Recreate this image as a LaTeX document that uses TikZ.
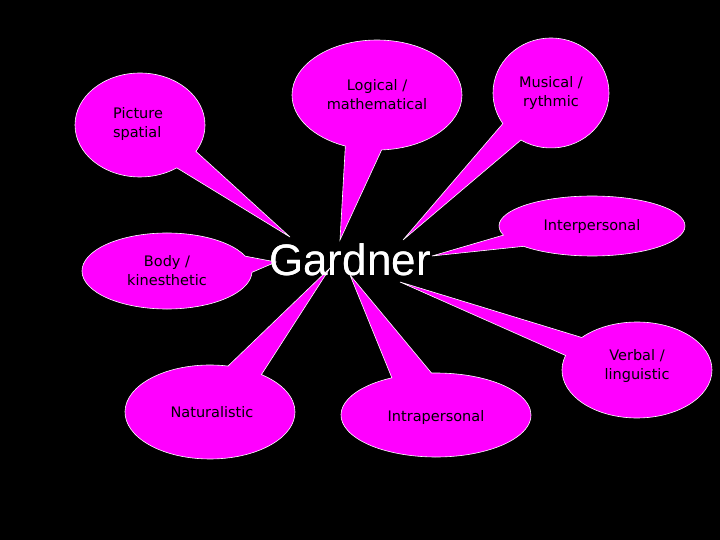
\documentclass[tikz,border=0pt]{standalone}
\usepackage{fontspec}
\setmainfont{DejaVu Sans}
\newfontfamily\garfont{Liberation Sans}
\usetikzlibrary{shapes.callouts}
\definecolor{mag}{HTML}{FF00FF}
\tikzset{bubble/.style={ellipse callout, fill=mag, draw=white, line width=0.6pt, align=center, font=\fontsize{14.5}{19}\selectfont, text=black, inner sep=0pt, callout pointer arc=25}}
\begin{document}
\begin{tikzpicture}[x=1pt,y=-1pt]
\fill[black] (0,0) rectangle (720,540);
\useasboundingbox (0,0) rectangle (720,540);
\node[font=\garfont\fontsize{44}{50}\selectfont, text=white] (g) at (350,260) {Gardner};
\node[bubble, minimum width=130pt, minimum height=104pt, callout absolute pointer={(290,237)}] (ps) at (140,125) {};
\node[align=left, font=\fontsize{14.5}{19}\selectfont] (pst) at (138,124) {Picture\\spatial};
\node[bubble, minimum width=170pt, minimum height=110pt, callout absolute pointer={(340,240)}] (lm) at (377,95) {Logical /\\mathematical};
\node[bubble, minimum width=116pt, minimum height=110pt, callout absolute pointer={(403,240)}] (mr) at (551,93) {Musical /\\rythmic};
\node[bubble, minimum width=186pt, minimum height=60pt, callout absolute pointer={(432,256)}] (ip) at (592,226) {};
\node[font=\fontsize{14.5}{19}\selectfont] (ipt) at (592,226) {Interpersonal};
\node[bubble, minimum width=170pt, minimum height=76pt, callout absolute pointer={(276,262)}] (bk) at (167,271) {Body /\\kinesthetic};
\node[bubble, minimum width=150pt, minimum height=96pt, callout absolute pointer={(400,282)}] (vl) at (637,370) {};
\node[align=center, font=\fontsize{14.5}{19}\selectfont] (vlt) at (637,366) {Verbal /\\linguistic};
\node[bubble, minimum width=170pt, minimum height=94pt, callout absolute pointer={(330,268)}] (na) at (210,412) {};
\node[font=\fontsize{14.5}{19}\selectfont] (nat) at (212,412) {Naturalistic};
\node[bubble, minimum width=190pt, minimum height=84pt, callout absolute pointer={(350,275)}] (in) at (436,415) {};
\node[font=\fontsize{14.5}{19}\selectfont] (int) at (436,417) {Intrapersonal};
\node[font=\garfont\fontsize{44}{50}\selectfont, text=white] at (g) {Gardner};
\end{tikzpicture}
\end{document}
